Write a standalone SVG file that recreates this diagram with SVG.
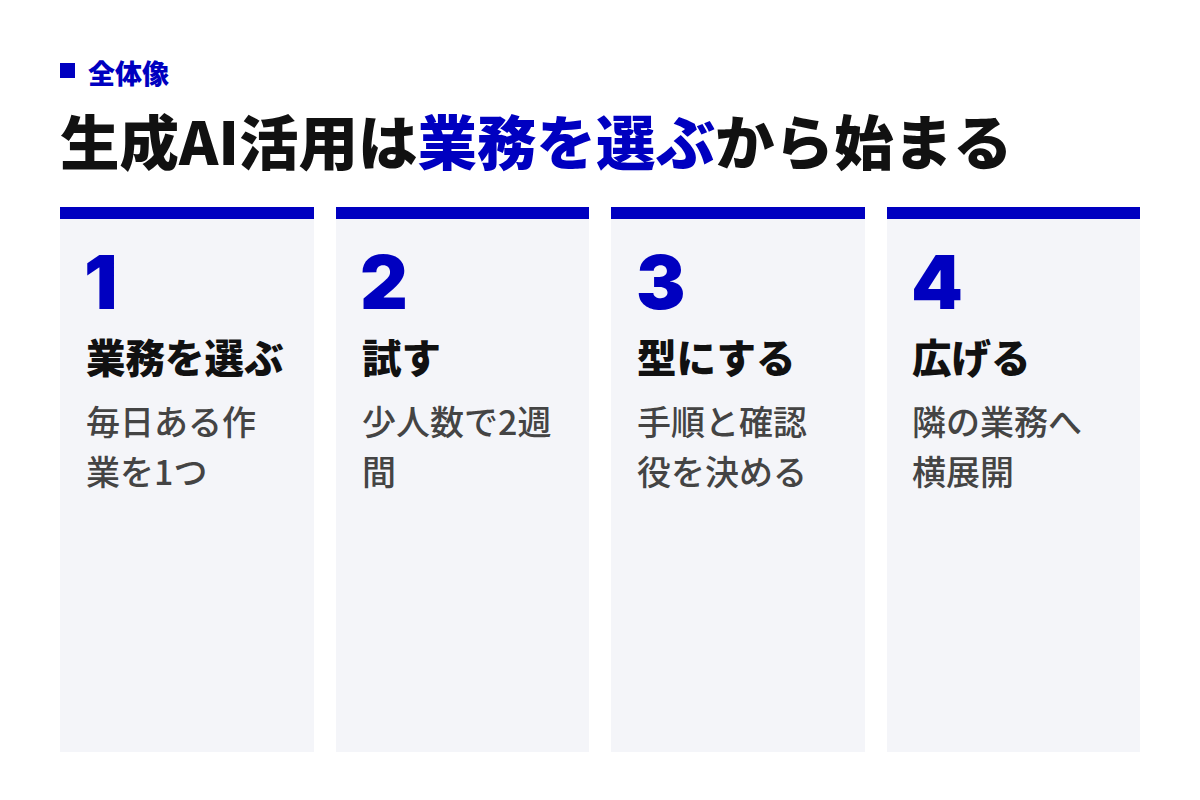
<svg xmlns="http://www.w3.org/2000/svg" width="1200" height="800" viewBox="0 0 1200 800">
<style>
.cjk{font-family:"Noto Sans CJK JP","Noto Sans",sans-serif}
.card{fill:#f4f5f9}
.bar{fill:#0000c0}
.num{font-family:Inter,"Noto Sans",sans-serif;font-weight:900;font-size:74px;fill:#0000c0}
.ttl{font-weight:900;font-size:39.5px;fill:#111}
.body{font-weight:500;font-size:34px;fill:#444}
</style>
<rect width="1200" height="800" fill="#ffffff"/>
<g id="header">
<rect x="60" y="63" width="15" height="15" fill="#0000c0"/>
<text class="cjk" x="88" y="84" font-size="27" font-weight="900" fill="#0000c0">全体像</text>
<text class="cjk" x="60" y="165" font-size="59.5" font-weight="900" fill="#111">生成AI活用は<tspan fill="#0000c0">業務を選ぶ</tspan>から始まる</text>
</g>
<g id="card1">
<rect class="card" x="60" y="207" width="254" height="545"/>
<rect class="bar" x="60" y="207" width="254" height="12"/>
<text class="num" x="84" y="309">1</text>
<text class="cjk ttl" x="86" y="373">業務を選ぶ</text>
<text class="cjk body" x="86" y="435">毎日ある作</text>
<text class="cjk body" x="86" y="485">業を1つ</text>
</g>
<g id="card2">
<rect class="card" x="336" y="207" width="253" height="545"/>
<rect class="bar" x="336" y="207" width="253" height="12"/>
<text class="num" x="360" y="309">2</text>
<text class="cjk ttl" x="362" y="373">試す</text>
<text class="cjk body" x="362" y="435">少人数で2週</text>
<text class="cjk body" x="362" y="485">間</text>
</g>
<g id="card3">
<rect class="card" x="611" y="207" width="254" height="545"/>
<rect class="bar" x="611" y="207" width="254" height="12"/>
<text class="num" x="636" y="309">3</text>
<text class="cjk ttl" x="637" y="373">型にする</text>
<text class="cjk body" x="637" y="435">手順と確認</text>
<text class="cjk body" x="637" y="485">役を決める</text>
</g>
<g id="card4">
<rect class="card" x="887" y="207" width="253" height="545"/>
<rect class="bar" x="887" y="207" width="253" height="12"/>
<text class="num" x="911" y="309">4</text>
<text class="cjk ttl" x="912" y="373">広げる</text>
<text class="cjk body" x="912" y="435">隣の業務へ</text>
<text class="cjk body" x="912" y="485">横展開</text>
</g>
<g id="connectors"></g>
</svg>
